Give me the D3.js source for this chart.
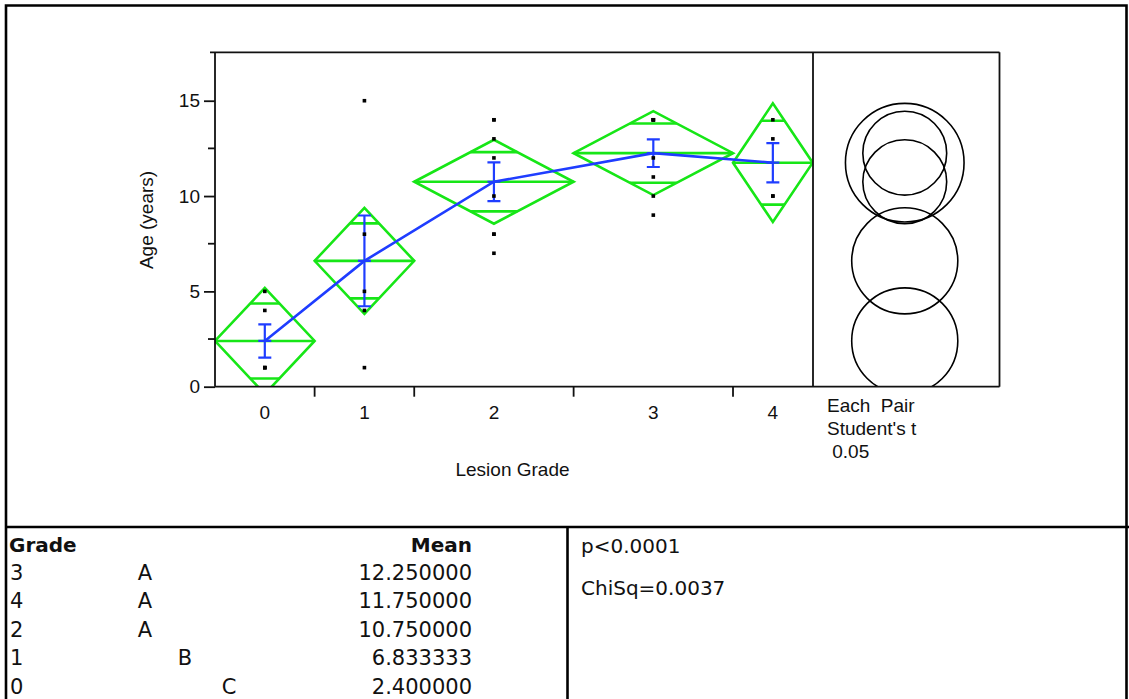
<!DOCTYPE html>
<html>
<head>
<meta charset="utf-8">
<script src="https://cdn.jsdelivr.net/npm/d3@7/dist/d3.min.js"></script>
<style>
  html, body { margin: 0; padding: 0; background: #fff; }
  svg { display: block; }
  .ax { font-family: "Liberation Sans", Arial, sans-serif; font-size: 19px; fill: #111; }
  .tbl { font-family: "DejaVu Sans", Verdana, sans-serif; font-size: 21px; fill: #111; }
  .tblh { font-family: "DejaVu Sans", Verdana, sans-serif; font-size: 20px; font-weight: bold; fill: #111; }
  .stat { font-family: "DejaVu Sans", Verdana, sans-serif; font-size: 20px; fill: #111; }
</style>
</head>
<body>
<svg id="chart" width="1129" height="699"></svg>
<script>
// Age (years) observed at each lesion grade
const grades = ["0", "1", "2", "3", "4"];
const ages = [
  [5, 4, 1, 1, 1],
  [15, 8, 5, 4, 1],
  [14, 14, 13, 12, 10, 8, 8, 7],
  [14, 14, 14, 14, 12, 11, 10, 9],
  [14, 13, 10, 10]
];
const yTicks = [0, 5, 10, 15];
const yMinorTicks = [2.5, 7.5, 12.5];
const yMax = 17.54;
const tCrit = 2.0595; // Student's t, alpha 0.05, 25 df

// Connecting-letters report
const tableGrade = ["3", "4", "2", "1", "0"];
const tableLetter = ["A", "A", "A", "B", "C"];
const tableLetterCol = [0, 0, 0, 1, 2];
const tableMean = [12.25, 11.75, 10.75, 6.833333, 2.4];
const statLines = ["p<0.0001", "ChiSq=0.0037"];
const compareNote = ["Each\u00a0\u00a0Pair", "Student's t", "\u00a00.05"];

const svg = d3.select("#chart");

// ---- group statistics ----
const n = ages.map(a => a.length);
const means = ages.map(a => d3.mean(a));
const sdInd = ages.map(a => d3.deviation(a));
const sse = d3.sum(ages, (a, i) => d3.sum(a, v => (v - means[i]) ** 2));
const dfe = d3.sum(n) - ages.length;
const rootMse = Math.sqrt(sse / dfe);
const ci = n.map(k => tCrit * rootMse / Math.sqrt(k));
const se = sdInd.map((s, i) => s / Math.sqrt(n[i]));
const cum = [0];
n.forEach(k => cum.push(cum[cum.length - 1] + k));

// ---- layout ----
const plot = { left: 215, right: 812.7, top: 52.3, bottom: 386.7 };
const panel = { left: 813, right: 999.5 };

const x = d3.scaleLinear().domain([0, cum[cum.length - 1]]).range([plot.left, plot.right]);
const y = d3.scaleLinear().domain([0, yMax]).range([plot.bottom, plot.top]);
const xc = i => x((cum[i] + cum[i + 1]) / 2);

// outer frames
const frame = svg.append("g").attr("fill", "none").attr("stroke", "#000").attr("stroke-width", 2.6);
frame.append("path").attr("d", "M6,699 V5.5 H1126.5 V699");
frame.append("line").attr("x1", 6).attr("x2", 1129).attr("y1", 527).attr("y2", 527);
frame.append("line").attr("x1", 567.5).attr("x2", 567.5).attr("y1", 527).attr("y2", 699);

// clip regions
const defs = svg.append("defs");
defs.append("clipPath").attr("id", "clipPlot").append("rect")
  .attr("x", plot.left).attr("y", plot.top).attr("width", plot.right - plot.left).attr("height", plot.bottom - plot.top);
defs.append("clipPath").attr("id", "clipPanel").append("rect")
  .attr("x", panel.left).attr("y", plot.top).attr("width", panel.right - panel.left).attr("height", plot.bottom - plot.top);

// ---- diamonds ----
const gD = svg.append("g").attr("clip-path", "url(#clipPlot)")
  .attr("fill", "none").attr("stroke", "#17e617").attr("stroke-width", 2.6).attr("stroke-linejoin", "miter");
grades.forEach((g, i) => {
  const x0 = x(cum[i]), x1 = x(cum[i + 1]), cx = xc(i);
  const m = means[i], h = ci[i];
  gD.append("path").attr("d",
    `M${x0},${y(m)} L${cx},${y(m + h)} L${x1},${y(m)} L${cx},${y(m - h)} Z`);
  gD.append("line").attr("x1", x0).attr("x2", x1).attr("y1", y(m)).attr("y2", y(m));
  // overlap marks
  const o = h / Math.SQRT2;
  const hw = (x1 - x0) / 2 * (1 - 1 / Math.SQRT2);
  [m + o, m - o].forEach(v => {
    gD.append("line").attr("x1", cx - hw).attr("x2", cx + hw).attr("y1", y(v)).attr("y2", y(v));
  });
});

// ---- means line and std error bars ----
const blue = "#1f3dff";
const gB = svg.append("g").attr("clip-path", "url(#clipPlot)").attr("stroke", blue).attr("fill", "none");
gB.append("path")
  .datum(means)
  .attr("stroke-width", 2.6)
  .attr("d", d3.line().x((d, i) => xc(i)).y(d => y(d)));
const cap = 6.5;
grades.forEach((g, i) => {
  const cx = xc(i), m = means[i], s = se[i];
  gB.append("line").attr("stroke-width", 2.2).attr("x1", cx).attr("x2", cx).attr("y1", y(m + s)).attr("y2", y(m - s));
  [m + s, m, m - s].forEach(v => {
    gB.append("line").attr("stroke-width", 2.2).attr("x1", cx - cap).attr("x2", cx + cap).attr("y1", y(v)).attr("y2", y(v));
  });
});

// ---- data points ----
const pts = [];
ages.forEach((a, i) => a.forEach(v => pts.push({ i, v })));
svg.append("g").selectAll("rect").data(pts).join("rect")
  .attr("x", d => xc(d.i) - 1.8).attr("y", d => y(d.v) - 1.8)
  .attr("width", 3.6).attr("height", 3.6).attr("fill", "#000");

// ---- comparison circles ----
const pcx = (panel.left + panel.right) / 2 - 1.5;
svg.append("g").attr("clip-path", "url(#clipPanel)")
  .selectAll("circle").data(grades).join("circle")
  .attr("cx", pcx)
  .attr("cy", (d, i) => y(means[i]))
  .attr("r", (d, i) => y(0) - y(ci[i]))
  .attr("fill", "none").attr("stroke", "#000").attr("stroke-width", 1.6);

// ---- plot frame ----
const gF = svg.append("g").attr("fill", "none").attr("stroke", "#111").attr("stroke-width", 1.8);
gF.append("line").attr("x1", 210).attr("x2", panel.right).attr("y1", plot.top).attr("y2", plot.top);
gF.append("line").attr("x1", panel.left).attr("x2", panel.left).attr("y1", plot.top).attr("y2", plot.bottom);
gF.append("line").attr("x1", panel.right).attr("x2", panel.right).attr("y1", plot.top).attr("y2", plot.bottom);

// y axis
const yAxis = svg.append("g").attr("transform", `translate(${plot.left},0)`)
  .call(d3.axisLeft(y).tickValues(yTicks).tickSize(11).tickPadding(4).tickFormat(d3.format("d")));
yAxis.select(".domain").attr("stroke", "#111").attr("stroke-width", 1.8).attr("d", `M0,${plot.top}V${plot.bottom}`);
yAxis.selectAll(".tick line").attr("stroke", "#111").attr("stroke-width", 1.8);
yAxis.selectAll(".tick text").attr("class", "ax").attr("font-family", null).attr("font-size", null);
svg.append("g").selectAll("line").data(yMinorTicks).join("line")
  .attr("x1", plot.left - 7).attr("x2", plot.left).attr("y1", d => y(d)).attr("y2", d => y(d))
  .attr("stroke", "#111").attr("stroke-width", 1.8);

// x axis: boundaries as ticks, grade labels at centres
svg.append("line").attr("x1", plot.left).attr("x2", panel.right).attr("y1", plot.bottom).attr("y2", plot.bottom)
  .attr("stroke", "#111").attr("stroke-width", 1.8);
svg.append("g").selectAll("line").data(cum.slice(1, -1)).join("line")
  .attr("x1", d => x(d)).attr("x2", d => x(d)).attr("y1", plot.bottom).attr("y2", plot.bottom + 10)
  .attr("stroke", "#111").attr("stroke-width", 1.8);
svg.append("g").selectAll("text").data(grades).join("text")
  .attr("class", "ax").attr("x", (d, i) => xc(i)).attr("y", 419).attr("text-anchor", "middle").text(d => d);

// axis titles
svg.append("text").attr("class", "ax").attr("x", 512.5).attr("y", 476).attr("text-anchor", "middle").text("Lesion Grade");
svg.append("text").attr("class", "ax").attr("transform", "translate(153,220) rotate(-90)").attr("text-anchor", "middle").text("Age (years)");

// comparison note
svg.append("g").selectAll("text").data(compareNote).join("text")
  .attr("class", "ax").attr("x", 827).attr("y", (d, i) => 412 + i * 22.8).text(d => d);

// ---- means table ----
const rowY = i => 579.9 + i * 28.4;
svg.append("text").attr("class", "tblh").attr("x", 9).attr("y", 552.3).text("Grade");
svg.append("text").attr("class", "tblh").attr("x", 472).attr("y", 552.3).attr("text-anchor", "end").text("Mean");
const letterX = [145, 185, 229];
tableGrade.forEach((g, i) => {
  svg.append("text").attr("class", "tbl").attr("x", 10).attr("y", rowY(i)).text(g);
  svg.append("text").attr("class", "tbl").attr("x", letterX[tableLetterCol[i]]).attr("y", rowY(i))
    .attr("text-anchor", "middle").text(tableLetter[i]);
  svg.append("text").attr("class", "tbl").attr("x", 472).attr("y", rowY(i))
    .attr("text-anchor", "end").text(tableMean[i].toFixed(6));
});

// ---- test statistics ----
svg.append("g").selectAll("text").data(statLines).join("text")
  .attr("class", "stat").attr("x", 581).attr("y", (d, i) => 553 + i * 42).text(d => d);
</script>
</body>
</html>
